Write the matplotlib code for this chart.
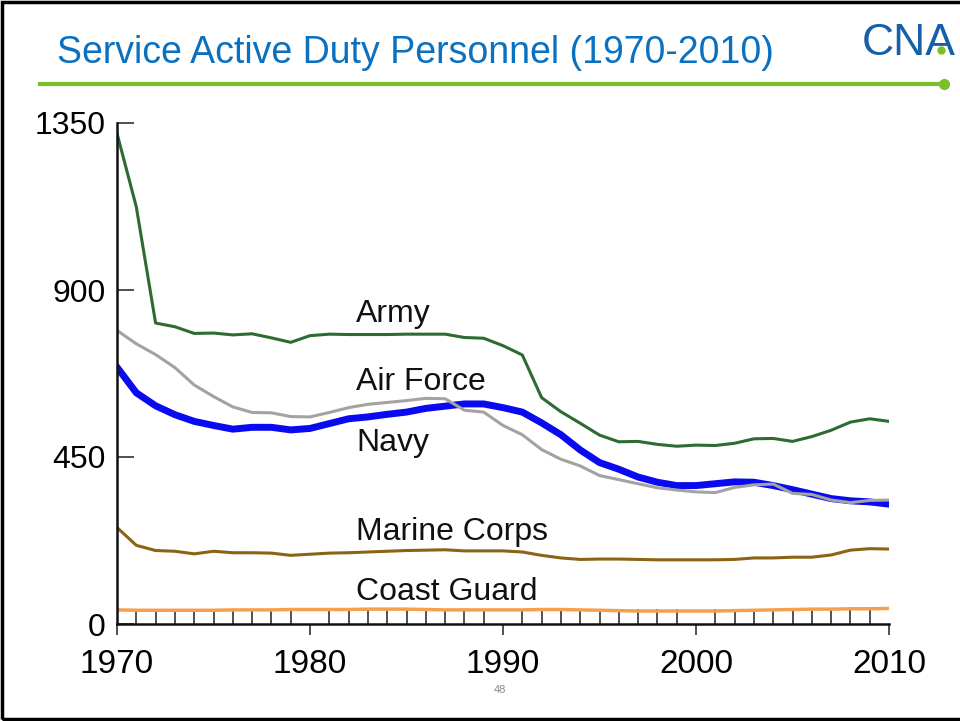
import matplotlib.pyplot as plt
import matplotlib.patches as patches
from matplotlib.lines import Line2D
from matplotlib.ticker import MultipleLocator

years = list(range(1970, 2011))

army = [1322, 1124, 811, 801, 783, 784, 779, 782, 771, 759,
        777, 781, 780, 780, 780, 781, 781, 781, 772, 770,
        750, 725, 610, 572, 541, 509, 491, 492, 484, 479,
        482, 481, 487, 499, 500, 492, 505, 522, 544, 553, 546]
air_force = [791, 755, 726, 691, 644, 613, 585, 570, 569, 559,
             558, 570, 583, 592, 597, 602, 608, 607, 576, 571,
             535, 510, 470, 444, 426, 400, 389, 378, 367, 361,
             356, 354, 368, 375, 377, 352, 349, 334, 327, 333, 334]
navy = [692, 623, 588, 564, 546, 535, 525, 530, 530, 523,
        527, 540, 553, 558, 565, 571, 581, 587, 593, 593,
        583, 571, 542, 510, 469, 435, 417, 396, 382, 373,
        373, 378, 383, 382, 373, 362, 350, 338, 332, 329, 323]
marine_corps = [260, 212, 198, 196, 189, 196, 192, 192, 191, 185,
                188, 191, 192, 194, 196, 198, 199, 200, 197, 197,
                197, 194, 185, 178, 174, 175, 175, 174, 173, 173,
                173, 173, 174, 178, 178, 180, 180, 186, 199, 203, 202]
coast_guard = [38, 37, 37, 37, 37, 37, 38, 38, 38, 39,
               39, 39, 39, 40, 40, 40, 39, 38, 38, 38,
               38, 38, 39, 39, 38, 37, 36, 35, 35, 35,
               35, 35, 36, 37, 38, 39, 40, 40, 41, 41, 42]

labels = ["Army", "Air Force", "Navy", "Marine Corps", "Coast Guard"]
label_pos = [(1982.4, 836), (1982.4, 653), (1982.4, 488), (1982.4, 248), (1982.4, 86)]

plt.rcParams['font.family'] = ['Liberation Sans', 'DejaVu Sans']

fig = plt.figure(figsize=(9.6, 7.21), dpi=100)

# slide frame
fig.add_artist(patches.Rectangle((0.002, 0.003), 1.1, 0.994, transform=fig.transFigure,
                                 fill=False, edgecolor='black', linewidth=2.5))

# title and header rule
fig.text(0.059, 0.926, "Service Active Duty Personnel (1970-2010)", color='#0a70c0',
         fontsize=27, ha='left', va='center')
fig.add_artist(Line2D([0.042, 0.978], [0.883, 0.883], color='#7dbf2a', linewidth=3,
                      transform=fig.transFigure))
fig.add_artist(Line2D([0.983], [0.883], marker='o', markersize=7, color='#7dbf2a',
                      transform=fig.transFigure))

# logo
fig.text(0.898, 0.940, "CNA", color='#1560a8', fontsize=32, ha='left', va='center')
fig.add_artist(Line2D([0.980], [0.930], marker='o', markersize=5, color='#7dbf2a',
                      transform=fig.transFigure))

ax = fig.add_axes([117 / 960, 1 - 624 / 721, (889 - 117) / 960, (624 - 123) / 721])

ax.plot(years, army, color='#2e6b32', linewidth=2.2)
ax.plot(years, navy, color='#0a0af0', linewidth=5)
ax.plot(years, air_force, color='#a3a3a3', linewidth=2.2)
ax.plot(years, marine_corps, color='#8a6414', linewidth=2.2)
ax.plot(years, coast_guard, color='#f5a04e', linewidth=2.5)

for text, (x, y) in zip(labels, label_pos):
    ax.text(x, y, text, fontsize=23, ha='left', va='center', color='#111111')

ax.set_xlim(1970, 2010)
ax.set_ylim(0, 1350)
ax.set_xticks([1970, 1980, 1990, 2000, 2010])
ax.xaxis.set_minor_locator(MultipleLocator(1))
ax.set_yticks([0, 450, 900, 1350])

for side in ['top', 'right']:
    ax.spines[side].set_visible(False)
for side in ['left', 'bottom']:
    ax.spines[side].set_linewidth(1.8)
    ax.spines[side].set_color('#111111')

ax.tick_params(axis='x', which='major', direction='out', length=8, width=1.2,
               labelsize=24, pad=10, color='#333333')
ax.tick_params(axis='x', which='minor', direction='in', length=11, width=1.2, color='#333333')
ax.tick_params(axis='y', which='major', direction='in', length=12, width=1.2,
               labelsize=23, pad=8, color='#333333')

fig.text(0.521, 0.043, "48", color='#888888', fontsize=8, ha='center', va='center')

fig.savefig('out.png', dpi=100)
